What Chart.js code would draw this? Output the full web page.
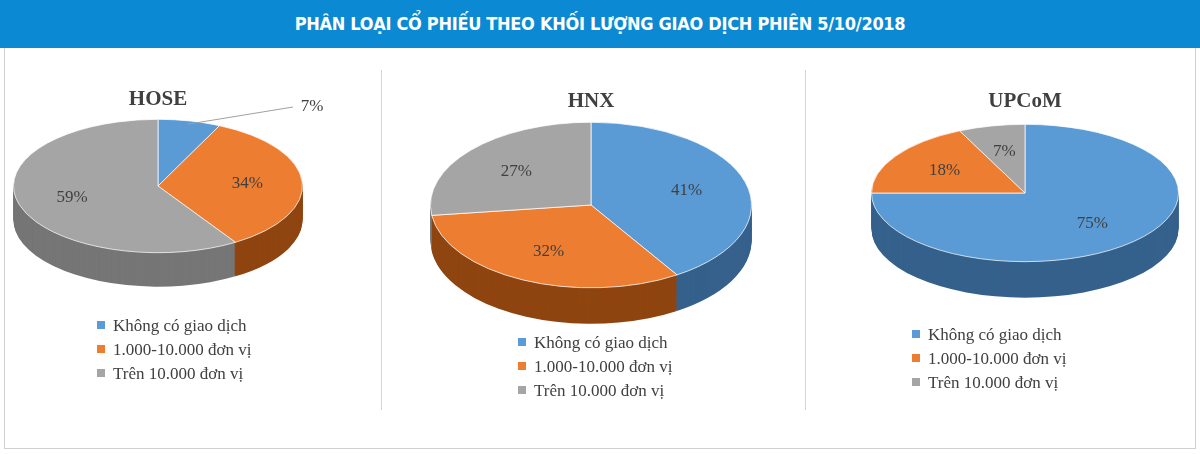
<!DOCTYPE html>
<html><head><meta charset="utf-8">
<script src="https://cdn.jsdelivr.net/npm/chart.js@4/dist/chart.umd.min.js"></script>
<style>
body{margin:0;width:1200px;height:454px;background:#fff;position:relative;overflow:hidden;font-family:"Liberation Serif",serif}
#hdr{position:absolute;left:0;top:0;width:1200px;height:48px;background:#0b8ad3;color:#fff;font:bold 18px "DejaVu Sans Condensed","DejaVu Sans",sans-serif;text-align:center;line-height:48px;z-index:5;letter-spacing:-0.3px}
.frame{position:absolute;left:4px;top:48px;width:1190px;height:400px;border:1px solid #d0d0d0;border-top:none}
.sep{position:absolute;top:70px;height:340px;width:1px;background:#d4d4d4}
.ttl{position:absolute;font:bold 21px "Liberation Serif",serif;color:#404040;transform:translateX(-50%)}
canvas.pc{position:absolute}
.lg{position:absolute;font-size:17px;color:#404040;line-height:24px}
.lg span{display:inline-block;width:8px;height:8px;margin-right:8px;vertical-align:2px}
</style></head><body>
<div id="hdr">PHÂN LOẠI CỔ PHIẾU THEO KHỐI LƯỢNG GIAO DỊCH PHIÊN 5/10/2018</div>
<div class="frame"></div>
<div class="sep" style="left:381px"></div>
<div class="sep" style="left:805px"></div>
<div id="root"></div>
<script>
// --- DATOS ---
const categories = ["Không có giao  dịch", "1.000-10.000 đơn vị", "Trên 10.000 đơn vị"];
const exchanges = ["HOSE", "HNX", "UPCoM"];
const hoseValues = [7, 34, 59];
const hnxValues = [41, 32, 27];
const upcomValues = [75, 18, 7];

const topColors = ["#5b9bd5", "#ed7d31", "#a5a5a5"];
const sideColors = ["#35618c", "#8f4510", "#767676"];

// cx, cy, rx, ry, depth, titleY, legendX, legendY, outside label index
const layouts = [
  { cx: 158, cy: 186, rx: 143, ry: 66, depth: 34, ty: 86, lx: 97, ly: 314, out: 0 },
  { cx: 591, cy: 205, rx: 159, ry: 82, depth: 36, ty: 88, lx: 518, ly: 331, out: -1 },
  { cx: 1025, cy: 193, rx: 152, ry: 68, depth: 36, ty: 88, lx: 912, ly: 323, out: -1 },
];
const allValues = [hoseValues, hnxValues, upcomValues];
const root = document.getElementById("root");

const pie3d = {
  id: "pie3d",
  beforeDatasetsDraw(chart) {
    const L = chart.options.plugins.pie3d;
    const ctx = chart.ctx;
    const arcs = chart.getDatasetMeta(0).data;
    const k = L.ry / L.rx;
    ctx.save();
    ctx.translate(arcs[0].x, arcs[0].y);
    ctx.scale(1, k);
    for (let d = L.depth; d >= 1; d--) {
      arcs.forEach((a, i) => {
        ctx.beginPath();
        ctx.moveTo(0, d / k);
        ctx.arc(0, d / k, a.outerRadius, a.startAngle, a.endAngle);
        ctx.closePath();
        ctx.fillStyle = sideColors[i];
        ctx.fill();
      });
    }
    ctx.translate(-arcs[0].x, -arcs[0].y);
  },
  afterDatasetsDraw(chart) {
    const L = chart.options.plugins.pie3d;
    const ctx = chart.ctx;
    ctx.restore();
    const arcs = chart.getDatasetMeta(0).data;
    const vals = chart.data.datasets[0].data;
    const k = L.ry / L.rx;
    ctx.font = "17px 'Liberation Serif', serif";
    ctx.fillStyle = "#404040";
    ctx.textAlign = "center";
    ctx.textBaseline = "middle";
    arcs.forEach((a, i) => {
      const m = (a.startAngle + a.endAngle) / 2;
      const r = a.outerRadius;
      if (i === L.out) {
        const px = a.x + Math.cos(m) * r * 0.95, py = a.y + Math.sin(m) * r * k * 0.95;
        const qx = a.x + 135, qy = a.y - 79;
        ctx.strokeStyle = "#a0a0a0";
        ctx.beginPath(); ctx.moveTo(px, py); ctx.lineTo(qx, qy); ctx.stroke();
        ctx.fillText(vals[i] + "%", qx + 19, qy);
      } else {
        ctx.fillText(vals[i] + "%", a.x + Math.cos(m) * r * 0.62, a.y + Math.sin(m) * r * k * 0.62);
      }
    });
  },
};

layouts.forEach((L, n) => {
  const size = 2 * L.rx + 4;
  const w = size + 100;
  const cv = document.createElement("canvas");
  cv.className = "pc";
  cv.width = w;
  cv.height = size;
  cv.style.left = (L.cx - w / 2) + "px";
  cv.style.top = (L.cy - size / 2) + "px";
  cv.style.width = w + "px";
  cv.style.height = size + "px";
  root.appendChild(cv);

  const t = document.createElement("div");
  t.className = "ttl";
  t.style.left = L.cx + "px";
  t.style.top = L.ty + "px";
  t.textContent = exchanges[n];
  root.appendChild(t);

  const lg = document.createElement("div");
  lg.className = "lg";
  lg.style.left = L.lx + "px";
  lg.style.top = L.ly + "px";
  lg.innerHTML = categories.map((c, i) => `<div><span style="background:${topColors[i]}"></span>${c}</div>`).join("");
  root.appendChild(lg);

  new Chart(cv.getContext("2d"), {
    type: "pie",
    data: {
      labels: categories,
      datasets: [{ data: allValues[n], backgroundColor: topColors, borderColor: "#fff", borderWidth: 1 }],
    },
    options: {
      responsive: false,
      animation: false,
      layout: { padding: 0 },
      events: [],
      plugins: { legend: { display: false }, tooltip: { enabled: false }, pie3d: L },
    },
    plugins: [pie3d],
  });
});
</script>
</body></html>
